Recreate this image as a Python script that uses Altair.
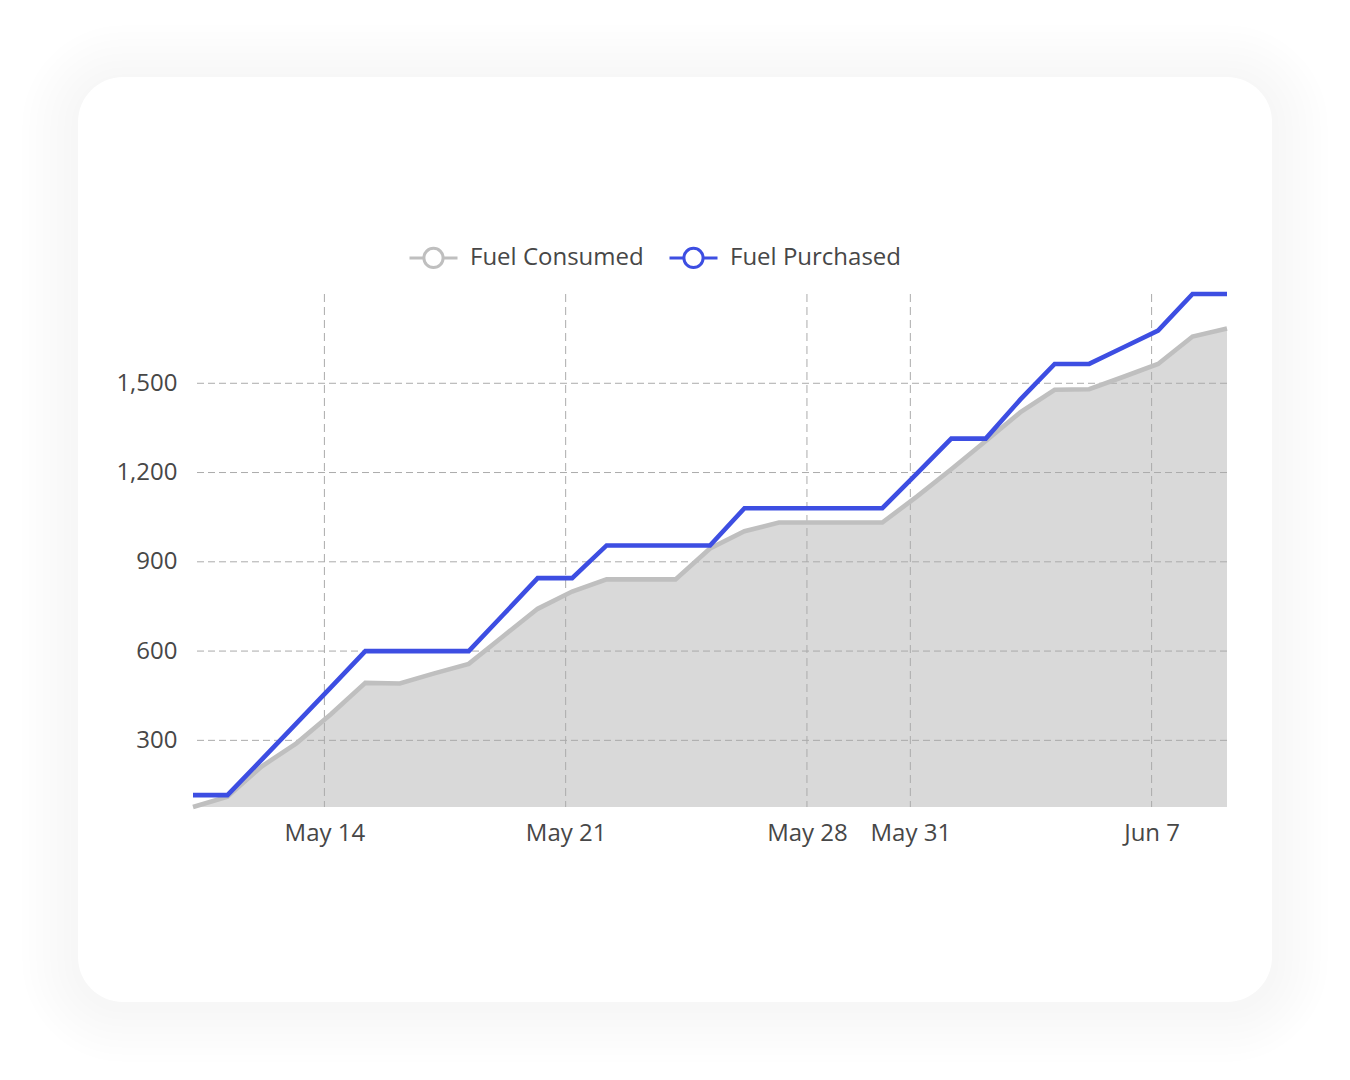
import altair as alt
import pandas as pd

# ---- data ----
dates = [
    "2023-05-10T04:30", "2023-05-11T04:30", "2023-05-12T04:30", "2023-05-13T04:30",
    "2023-05-14T04:30", "2023-05-15T04:30", "2023-05-16T04:30", "2023-05-17T04:30",
    "2023-05-18T04:30", "2023-05-19T04:30", "2023-05-20T04:30", "2023-05-21T04:30",
    "2023-05-22T04:30", "2023-05-23T04:30", "2023-05-24T04:30", "2023-05-25T04:30",
    "2023-05-26T04:30", "2023-05-27T04:30", "2023-05-28T04:30", "2023-05-29T04:30",
    "2023-05-30T04:30", "2023-05-31T04:30", "2023-06-01T04:30", "2023-06-02T04:30",
    "2023-06-03T04:30", "2023-06-04T04:30", "2023-06-05T04:30", "2023-06-06T04:30",
    "2023-06-07T04:30", "2023-06-08T04:30", "2023-06-09T04:30",
]
fuel_consumed = [
    76, 111, 213, 290, 388, 493, 491, 525, 557, 650,
    742, 800, 841, 841, 841, 945, 1003, 1032, 1032, 1032,
    1032, 1119, 1211, 1306, 1402, 1478, 1480, 1522, 1565, 1657,
    1684,
]
fuel_purchased = [
    116, 116, 236, 357, 478, 600, 600, 600, 600, 722,
    845, 845, 955, 955, 955, 955, 1080, 1080, 1080, 1080,
    1080, 1196, 1314, 1314, 1445, 1565, 1565, 1621, 1677, 1800,
    1800,
]
series_names = ["Fuel Consumed", "Fuel Purchased"]
series_colors = ["#bfbfbf", "#3d4ee2"]
y_ticks = [300, 600, 900, 1200, 1500]
x_tick_dates = ["2023-05-14T00:00", "2023-05-21T00:00", "2023-05-28T00:00",
                "2023-05-31T00:00", "2023-06-07T00:00"]

df = pd.DataFrame({"date": dates, "Fuel Consumed": fuel_consumed,
                   "Fuel Purchased": fuel_purchased})
df_xt = pd.DataFrame({"date": x_tick_dates})
df_yt = pd.DataFrame({"value": y_ticks})

FONT = "Open Sans"
TEXT = "#474747"
GRID = "#ababab"
W, H = 1034, 513
y_min = min(fuel_consumed)

y_scale = alt.Scale(domain=[y_min, max(fuel_purchased)], zero=False, nice=False)
x_scale = alt.Scale(nice=False)

x_axis = alt.Axis(
    title=None, values=[alt.DateTime(year=2023, month=m, date=d)
                        for m, d in [(5, 14), (5, 21), (5, 28), (5, 31), (6, 7)]],
    format="%b %-d", labelFont=FONT, labelFontSize=24, labelColor=TEXT,
    labelPadding=14, ticks=False, domain=False, grid=False, labelFlush=False,
    zindex=1,
)
y_axis = alt.Axis(
    title=None, values=y_ticks, format=",d", labelFont=FONT, labelFontSize=24,
    labelColor=TEXT, labelPadding=16, ticks=False, domain=False, grid=False,
    zindex=1,
)

# ---- card background with soft shadow ----
one = alt.Data(values=[{"k": 1}])
cx0, cx1, cy0, cy1 = -115, 1079, -217, 708
shadow_layers = []
for s in range(1, 9):
    g = s * 7
    shadow_layers.append(
        alt.Chart(one).mark_rect(cornerRadius=45 + g, fill="#000000", opacity=0.0032)
        .encode(x=alt.value(cx0 - g), x2=alt.value(cx1 + g),
                y=alt.value(cy0 - g + 4), y2=alt.value(cy1 + g + 4))
    )
card = alt.Chart(one).mark_rect(cornerRadius=45, fill="#ffffff").encode(
    x=alt.value(cx0), x2=alt.value(cx1), y=alt.value(cy0), y2=alt.value(cy1)
)

base = alt.Chart(df)

area = base.mark_area(color="#d9d9d9").encode(
    x=alt.X("date:T", scale=x_scale, axis=x_axis),
    y=alt.Y("Fuel Consumed:Q", scale=y_scale, axis=y_axis),
    y2=alt.datum(y_min),
)

x_grid = alt.Chart(df_xt).mark_rule(color=GRID, strokeWidth=1, strokeDash=[8, 5]).encode(
    x=alt.X("date:T", scale=x_scale, axis=x_axis)
)
y_grid = alt.Chart(df_yt).mark_rule(color=GRID, strokeWidth=1, strokeDash=[7, 4]).encode(
    y=alt.Y("value:Q", scale=y_scale, axis=y_axis)
)

legend_path = ("M-1.5,0L-0.6,0M0.6,0L1.5,0"
               "M0.6,0A0.6,0.6,0,1,1,-0.6,0A0.6,0.6,0,1,1,0.6,0Z")

lines = base.transform_fold(series_names, as_=["series", "value"]).mark_line(
    strokeWidth=4.6, strokeJoin="miter"
).encode(
    x=alt.X("date:T", scale=x_scale, axis=x_axis),
    y=alt.Y("value:Q", scale=y_scale, axis=y_axis),
    color=alt.Color(
        "series:N",
        scale=alt.Scale(domain=series_names, range=series_colors),
        legend=alt.Legend(
            title=None, orient="none", direction="horizontal",
            legendX=223, legendY=-54, padding=0,
            symbolType=legend_path, symbolSize=1024, symbolStrokeWidth=3,
            symbolFillColor="#ffffff", labelFont=FONT, labelFontSize=24,
            labelColor=TEXT, labelOffset=19, columnPadding=19, labelLimit=400,
        ),
    ),
)

chart = alt.layer(*shadow_layers, card, area, x_grid, y_grid, lines).properties(
    width=W, height=H,
    autosize=alt.AutoSizeParams(type="none"),
    padding={"left": 185, "top": 286, "right": 115, "bottom": 255},
    background="#ffffff",
).configure_view(stroke=None)

chart.save("out.html", embed_options={"renderer": "svg", "actions": False})
